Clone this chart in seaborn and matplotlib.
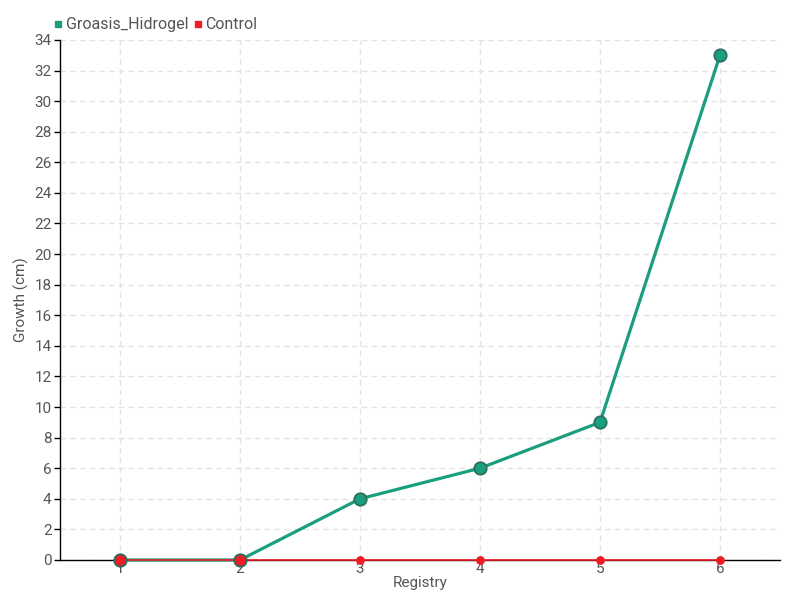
import numpy as np
import pandas as pd
import matplotlib
matplotlib.use('Agg')
import matplotlib.pyplot as plt
import seaborn as sns
from matplotlib.lines import Line2D

registry = [1, 2, 3, 4, 5, 6]
groasis_hidrogel = [0, 0, 4, 6, 9, 33]
control = [0, 0, 0, 0, 0, 0]

GREEN = '#1b9e7e'
RED = '#ee1c25'
TEXT = '#555555'

df = pd.DataFrame({
    'Registry': registry * 2,
    'Growth': groasis_hidrogel + control,
    'Series': ['Groasis_Hidrogel'] * len(registry) + ['Control'] * len(registry),
})

sns.set_style('white')
plt.rcParams['font.family'] = ['Roboto', 'DejaVu Sans']

fig = plt.figure(figsize=(8, 6), dpi=100)
ax = fig.add_axes([0.075, 0.0667, 0.9, 0.8667])

g = df[df.Series == 'Groasis_Hidrogel']
c = df[df.Series == 'Control']
sns.lineplot(data=g, x='Registry', y='Growth', color=GREEN, lw=2.3, ax=ax,
             marker='o', markersize=9, markeredgecolor='#2a6e5a',
             markeredgewidth=1.2, zorder=3, clip_on=False)
sns.lineplot(data=c, x='Registry', y='Growth', color=RED, lw=1.2, ax=ax,
             zorder=4, clip_on=False)
ax.scatter(c.Registry, c.Growth, s=40, color=RED, zorder=5, lw=0, clip_on=False)
# larger red dots where both series overlap
both = c[np.array(groasis_hidrogel) == 0]
ax.scatter(both.Registry, both.Growth, s=75, color=RED, edgecolor='#2a6e5a',
           lw=1.0, zorder=6, clip_on=False)

ax.set_xlim(0.5, 6.5)
ax.set_ylim(0, 34)
ax.set_xticks(registry)
ax.set_yticks(range(0, 35, 2))
ax.grid(True, color='#e3e3e3', ls=(0, (4, 3)), lw=1)
for s in ['top', 'right']:
    ax.spines[s].set_visible(False)
for s in ['left', 'bottom']:
    ax.spines[s].set_color('black')
    ax.spines[s].set_linewidth(1)
ax.tick_params(axis='y', left=True, length=4, width=1, color='black',
               labelsize=11, labelcolor=TEXT, pad=2)
ax.tick_params(axis='x', bottom=False, labelsize=11, labelcolor=TEXT, pad=-2)
ax.set_xlabel('Registry', fontsize=11, color=TEXT, labelpad=0)
ax.set_ylabel('Growth (cm)', fontsize=11, color=TEXT, labelpad=4)

handles = [Line2D([], [], marker='s', ls='', color=GREEN, markersize=5),
           Line2D([], [], marker='s', ls='', color=RED, markersize=5)]
fig.legend(handles, ['Groasis_Hidrogel', 'Control'], loc='upper left',
           bbox_to_anchor=(0.05, 0.995), ncol=2, frameon=False,
           handlelength=0.5, handletextpad=0.2, columnspacing=0.4,
           fontsize=11.5, labelcolor=TEXT)

fig.savefig('out.png', dpi=100)
